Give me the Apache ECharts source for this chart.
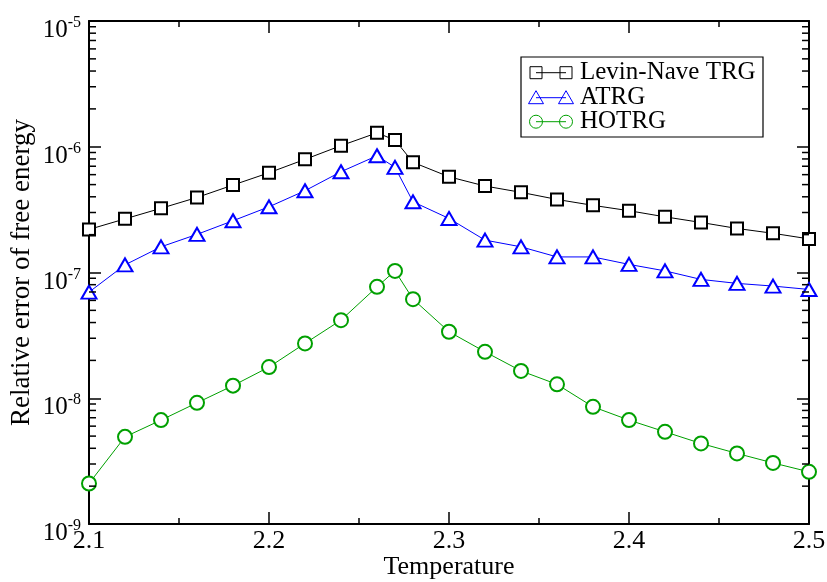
<!DOCTYPE html>
<html>
<head>
<meta charset="utf-8">
<script src="https://cdn.jsdelivr.net/npm/echarts@6/dist/echarts.min.js"></script>
<style>html,body{margin:0;padding:0;background:#fff}#c{width:827px;height:582px}</style>
</head>
<body>
<div id="c"></div>
<script>
const temperatures = [2.10,2.12,2.14,2.16,2.18,2.20,2.22,2.24,2.26,2.27,2.28,2.30,2.32,2.34,2.36,2.38,2.40,2.42,2.44,2.46,2.48,2.50];
const levinNaveTRG = [2.20e-7,2.67e-7,3.24e-7,3.95e-7,4.96e-7,6.21e-7,7.94e-7,1.02e-6,1.29e-6,1.13e-6,7.52e-7,5.77e-7,4.87e-7,4.34e-7,3.81e-7,3.42e-7,3.10e-7,2.77e-7,2.50e-7,2.24e-7,2.05e-7,1.85e-7];
const atrg = [6.98e-8,1.15e-7,1.60e-7,2.01e-7,2.58e-7,3.33e-7,4.47e-7,6.33e-7,8.48e-7,6.86e-7,3.65e-7,2.69e-7,1.81e-7,1.60e-7,1.33e-7,1.33e-7,1.16e-7,1.03e-7,8.81e-8,8.19e-8,7.80e-8,7.33e-8];
const hotrg = [2.10e-9,4.93e-9,6.70e-9,9.20e-9,1.26e-8,1.77e-8,2.73e-8,4.18e-8,7.69e-8,1.03e-7,6.14e-8,3.38e-8,2.34e-8,1.65e-8,1.29e-8,8.55e-9,6.70e-9,5.41e-9,4.37e-9,3.64e-9,3.06e-9,2.60e-9];
const seriesNames = ['Levin-Nave TRG','ATRG','HOTRG'];
const xTicks = [2.1,2.2,2.3,2.4,2.5];
const yMin = 1e-9, yMax = 1e-5;

const minorVals = [];
for (let e = -9; e < -5; e++) for (let k = 2; k <= 9; k++) minorVals.push([2.1, k * Math.pow(10, e)]);

const FONT = 'Liberation Serif';
const green = '#00a000';
const pair = (ys) => temperatures.map((t, i) => [t, ys[i]]);

const chart = echarts.init(document.getElementById('c'), null, {renderer: 'canvas'});
const axisLine = {show: true, lineStyle: {color: '#000', width: 2}};
chart.setOption({
  animation: false,
  backgroundColor: '#fff',
  grid: {left: 89, right: 18, top: 21, bottom: 58, containLabel: false, outerBoundsMode: 'none'},
  xAxis: [{
    type: 'value', min: 2.1, max: 2.5, interval: 0.1,
    name: 'Temperature', nameLocation: 'middle', nameGap: 30, nameMoveOverlap: false,
    nameTextStyle: {fontFamily: FONT, fontSize: 26, color: '#000'},
    axisLine: axisLine,
    axisTick: {inside: true, length: 12, lineStyle: {color: '#000', width: 1.5}},
    minorTick: {show: true, splitNumber: 2, length: 6, lineStyle: {color: '#000', width: 1.5}},
    splitLine: {show: false},
    axisLabel: {fontFamily: FONT, fontSize: 26, color: '#000', margin: 4,
      formatter: v => xTicks.find(t => Math.abs(t - v) < 1e-9) !== undefined ? (+v).toFixed(1) : ''}
  }, {
    type: 'value', min: 2.1, max: 2.5, interval: 0.1, position: 'top',
    axisLine: axisLine,
    axisTick: {inside: true, length: 12, lineStyle: {color: '#000', width: 1.5}},
    minorTick: {show: true, splitNumber: 2, length: 6, lineStyle: {color: '#000', width: 1.5}},
    splitLine: {show: false}, axisLabel: {show: false}
  }],
  yAxis: [{
    type: 'log', logBase: 10, min: yMin, max: yMax, splitNumber: 4,
    name: 'Relative error of free energy', nameLocation: 'middle', nameGap: 54, nameRotate: 90, nameMoveOverlap: false,
    nameTextStyle: {fontFamily: FONT, fontSize: 27, color: '#000'},
    axisLine: axisLine,
    axisTick: {inside: true, length: 12, lineStyle: {color: '#000', width: 1.5}},
    splitLine: {show: false},
    axisLabel: {
      margin: 8,
      padding: [16, 0, 0, 0],
      formatter: v => '{b|10}{s|' + Math.round(Math.log10(v)) + '}',
      rich: {
        b: {fontFamily: FONT, fontSize: 25, color: '#000', verticalAlign: 'bottom', lineHeight: 28},
        s: {fontFamily: FONT, fontSize: 16, color: '#000', verticalAlign: 'top', lineHeight: 16}
      }
    }
  }, {
    type: 'log', logBase: 10, min: yMin, max: yMax, splitNumber: 4, position: 'right',
    axisLine: axisLine,
    axisTick: {inside: true, length: 12, lineStyle: {color: '#000', width: 1.5}},
    splitLine: {show: false}, axisLabel: {show: false}
  }],
  series: [{
    name: seriesNames[0], type: 'line', data: pair(levinNaveTRG),
    symbol: 'emptyRect', symbolSize: 12, color: '#000',
    lineStyle: {width: 1, color: '#000'}, itemStyle: {borderWidth: 1, color: '#000', borderColor: '#000'}, z: 3
  }, {
    name: seriesNames[1], type: 'line', data: pair(atrg),
    symbol: 'emptyTriangle', symbolSize: [15, 13], color: '#0000ff',
    lineStyle: {width: 1, color: '#0000ff'}, itemStyle: {borderWidth: 1, color: '#0000ff', borderColor: '#0000ff'}, z: 3
  }, {
    name: seriesNames[2], type: 'line', data: pair(hotrg),
    symbol: 'emptyCircle', symbolSize: 14, color: green,
    lineStyle: {width: 1, color: green}, itemStyle: {borderWidth: 1, color: green, borderColor: green}, z: 3
  }, {
    type: 'custom', data: minorVals, silent: true, clip: false, z: 5,
    renderItem: function (params, api) {
      const p = api.coord([api.value(0), api.value(1)]);
      const cs = params.coordSys;
      const st = {stroke: '#000', lineWidth: 1.5};
      return {type: 'group', children: [
        {type: 'line', shape: {x1: cs.x, y1: p[1], x2: cs.x + 7, y2: p[1]}, style: st},
        {type: 'line', shape: {x1: cs.x + cs.width - 7, y1: p[1], x2: cs.x + cs.width, y2: p[1]}, style: st}
      ]};
    }
  }],
  graphic: (function () {
    const els = [{type: 'rect', shape: {x: 521, y: 57, width: 242, height: 80}, style: {fill: '#fff', stroke: '#000', lineWidth: 1.2}, z: 10}];
    const rows = [72.7, 97.7, 121.7];
    const cols = ['#000', '#0000ff', green];
    rows.forEach((y, i) => {
      const st = {fill: 'none', stroke: cols[i], lineWidth: 1};
      els.push({type: 'line', shape: {x1: 536, y1: y, x2: 566, y2: y}, style: {stroke: cols[i], lineWidth: 1}, z: 11});
      [536, 566].forEach(cx => {
        if (i === 0) els.push({type: 'rect', shape: {x: cx - 6, y: y - 6, width: 12, height: 12}, style: st, z: 11});
        if (i === 1) els.push({type: 'polygon', shape: {points: [[cx, y - 7], [cx - 7.5, y + 6], [cx + 7.5, y + 6]]}, style: st, z: 11});
        if (i === 2) els.push({type: 'circle', shape: {cx: cx, cy: y, r: 6.5}, style: st, z: 11});
      });
      els.push({type: 'text', x: 580, y: y, style: {text: seriesNames[i], font: '25px "Liberation Serif"', fill: '#000', verticalAlign: 'middle'}, z: 11});
    });
    return els;
  })()
});
</script>
</body>
</html>
